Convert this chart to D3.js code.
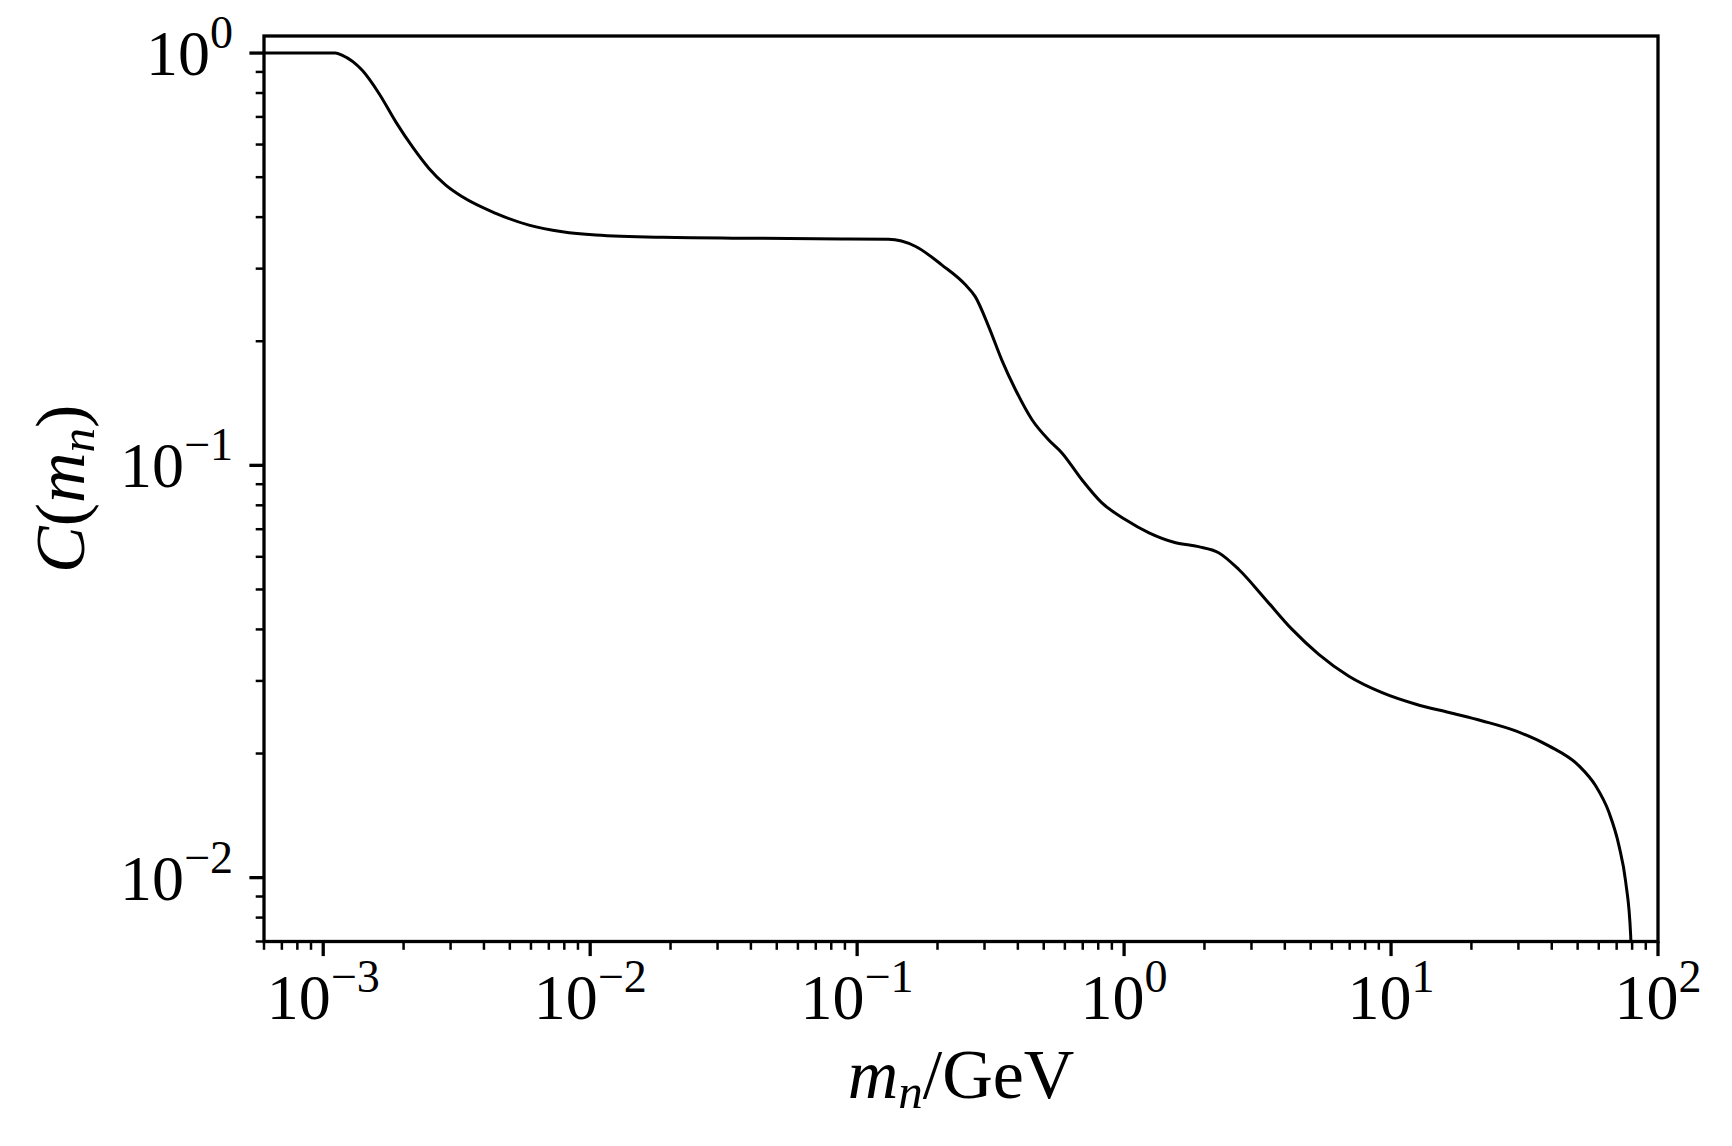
<!DOCTYPE html>
<html>
<head>
<meta charset="utf-8">
<script src="https://cdn.jsdelivr.net/npm/d3@7"></script>
<style>
  html, body { margin: 0; padding: 0; background: #fff; }
  svg { display: block; }
  text { font-family: "Liberation Serif", "DejaVu Serif", serif; fill: #000; }
</style>
</head>
<body>
<svg id="chart"></svg>
<script>
// values (mass in GeV, coefficient C)
const massGeV = [
  6.0e-4, 1.11e-3, 1.18e-3, 1.40e-3, 1.62e-3, 1.87e-3, 2.16e-3, 2.49e-3,
  2.87e-3, 3.32e-3, 4.43e-3, 5.90e-3, 7.87e-3, 1.05e-2, 1.87e-2, 4.42e-2,
  9.29e-2, 0.131, 0.165, 0.208, 0.254, 0.277, 0.311, 0.348, 0.392, 0.452,
  0.521, 0.585, 0.695, 0.826, 1.01, 1.24, 1.56, 1.90, 2.26, 2.69, 3.39,
  4.26, 5.36, 6.95, 9.26, 12.4, 16.5, 22.0, 29.3, 39.0, 50.6, 58.4, 65.5,
  71.4, 75.7, 79.0, 80.0
];
const coefficient = [
  1.0, 1.0, 0.987, 0.908, 0.797, 0.681, 0.592, 0.525,
  0.479, 0.448, 0.4085, 0.3826, 0.3686, 0.3619, 0.3573, 0.3553,
  0.3539, 0.3533, 0.340, 0.306, 0.2745, 0.2566, 0.2171, 0.1803, 0.1525, 0.129,
  0.1154, 0.1072, 0.0923, 0.0811, 0.0739, 0.0686, 0.0649, 0.0635, 0.0614, 0.0559, 0.0473,
  0.040, 0.0348, 0.0308, 0.0281, 0.02634, 0.02515, 0.02399, 0.02269, 0.02087, 0.01867, 0.0167, 0.0144,
  0.01196, 0.00975, 0.00724, 0.005
];
const xTickExponents = [-3, -2, -1, 0, 1, 2];
const yTickExponents = [-2, -1, 0];
const xDomain = [6e-4, 100];
const yDomain = [7e-3, 1.1];

const width = 1732;
const height = 1146;
const margin = { left: 264, right: 1732 - 1658, top: 36, bottom: 1146 - 941.5 };
const fontSize = 64;
const titleSize = 70;
const majorLen = 14.6;
const minorLen = 8.3;

const svg = d3.select('#chart')
  .attr('width', width)
  .attr('height', height);

const x = d3.scaleLog().domain(xDomain).range([margin.left, width - margin.right]);
const y = d3.scaleLog().domain(yDomain).range([height - margin.bottom, margin.top]);

// minor ticks at 2..9 times each decade, inside the domain
const minorTicks = (domain) => {
  const out = [];
  const lo = Math.floor(Math.log10(domain[0]));
  const hi = Math.ceil(Math.log10(domain[1]));
  for (let k = lo; k <= hi; k++) {
    for (let m = 2; m <= 9; m++) {
      const v = m * Math.pow(10, k);
      if (v >= domain[0] * 0.999 && v <= domain[1]) out.push(v);
    }
  }
  return out;
};

const powerLabel = (sel, exp) => {
  sel.append('tspan').text('10');
  sel.append('tspan')
    .attr('dy', -0.42 * fontSize)
    .attr('font-size', 0.72 * fontSize)
    .text(exp < 0 ? '\u2212' + (-exp) : String(exp));
};

svg.append('defs').append('clipPath')
  .attr('id', 'plot-area')
  .append('rect')
  .attr('x', margin.left)
  .attr('y', margin.top)
  .attr('width', width - margin.left - margin.right)
  .attr('height', height - margin.top - margin.bottom);

// the curve
const line = d3.line()
  .x(d => x(d[0]))
  .y(d => y(d[1]))
  .curve(d3.curveMonotoneX);

svg.append('path')
  .datum(d3.zip(massGeV, coefficient))
  .attr('clip-path', 'url(#plot-area)')
  .attr('fill', 'none')
  .attr('stroke', '#000')
  .attr('stroke-width', 3)
  .attr('stroke-linejoin', 'round')
  .attr('d', line);

// x axis ticks
const xAxis = svg.append('g').attr('class', 'x-axis');
const bottom = height - margin.bottom;

xAxis.selectAll('.minor')
  .data(minorTicks(xDomain))
  .enter()
  .append('line')
  .attr('class', 'minor')
  .attr('x1', d => x(d)).attr('x2', d => x(d))
  .attr('y1', bottom).attr('y2', bottom + minorLen)
  .attr('stroke', '#000')
  .attr('stroke-width', 2.5);

const xMajor = xAxis.selectAll('.major')
  .data(xTickExponents)
  .enter()
  .append('g')
  .attr('class', 'major')
  .attr('transform', d => `translate(${x(Math.pow(10, d))},${bottom})`);

xMajor.append('line')
  .attr('y2', majorLen)
  .attr('stroke', '#000')
  .attr('stroke-width', 3.3);

xMajor.append('text')
  .attr('y', 77)
  .attr('text-anchor', 'middle')
  .attr('font-size', fontSize)
  .each(function (d) { d3.select(this).call(powerLabel, d); });

// y axis ticks
const yAxis = svg.append('g').attr('class', 'y-axis');
const left = margin.left;

yAxis.selectAll('.minor')
  .data(minorTicks(yDomain))
  .enter()
  .append('line')
  .attr('class', 'minor')
  .attr('y1', d => y(d)).attr('y2', d => y(d))
  .attr('x1', left).attr('x2', left - minorLen)
  .attr('stroke', '#000')
  .attr('stroke-width', 2.5);

const yMajor = yAxis.selectAll('.major')
  .data(yTickExponents)
  .enter()
  .append('g')
  .attr('class', 'major')
  .attr('transform', d => `translate(${left},${y(Math.pow(10, d))})`);

yMajor.append('line')
  .attr('x2', -majorLen)
  .attr('stroke', '#000')
  .attr('stroke-width', 3.3);

yMajor.append('text')
  .attr('x', -31)
  .attr('y', 22)
  .attr('text-anchor', 'end')
  .attr('font-size', fontSize)
  .each(function (d) { d3.select(this).call(powerLabel, d); });

// frame
svg.append('rect')
  .attr('x', margin.left)
  .attr('y', margin.top)
  .attr('width', width - margin.left - margin.right)
  .attr('height', height - margin.top - margin.bottom)
  .attr('fill', 'none')
  .attr('stroke', '#000')
  .attr('stroke-width', 3.3);

// axis titles
const xTitle = svg.append('text')
  .attr('x', (margin.left + width - margin.right) / 2)
  .attr('y', 1098)
  .attr('text-anchor', 'middle')
  .attr('font-size', titleSize);
xTitle.append('tspan').attr('font-style', 'italic').text('m');
xTitle.append('tspan').attr('font-style', 'italic')
  .attr('font-size', 0.7 * titleSize).attr('dy', 10).text('n');
xTitle.append('tspan').attr('dy', -10).text('/GeV');

const yTitle = svg.append('text')
  .attr('transform', `translate(84,${(margin.top + height - margin.bottom) / 2}) rotate(-90)`)
  .attr('text-anchor', 'middle')
  .attr('font-size', titleSize);
yTitle.append('tspan').attr('font-style', 'italic').text('C');
yTitle.append('tspan').text('(');
yTitle.append('tspan').attr('font-style', 'italic').text('m');
yTitle.append('tspan').attr('font-style', 'italic')
  .attr('font-size', 0.7 * titleSize).attr('dy', 10).text('n');
yTitle.append('tspan').attr('dy', -10).text(')');
</script>
</body>
</html>
